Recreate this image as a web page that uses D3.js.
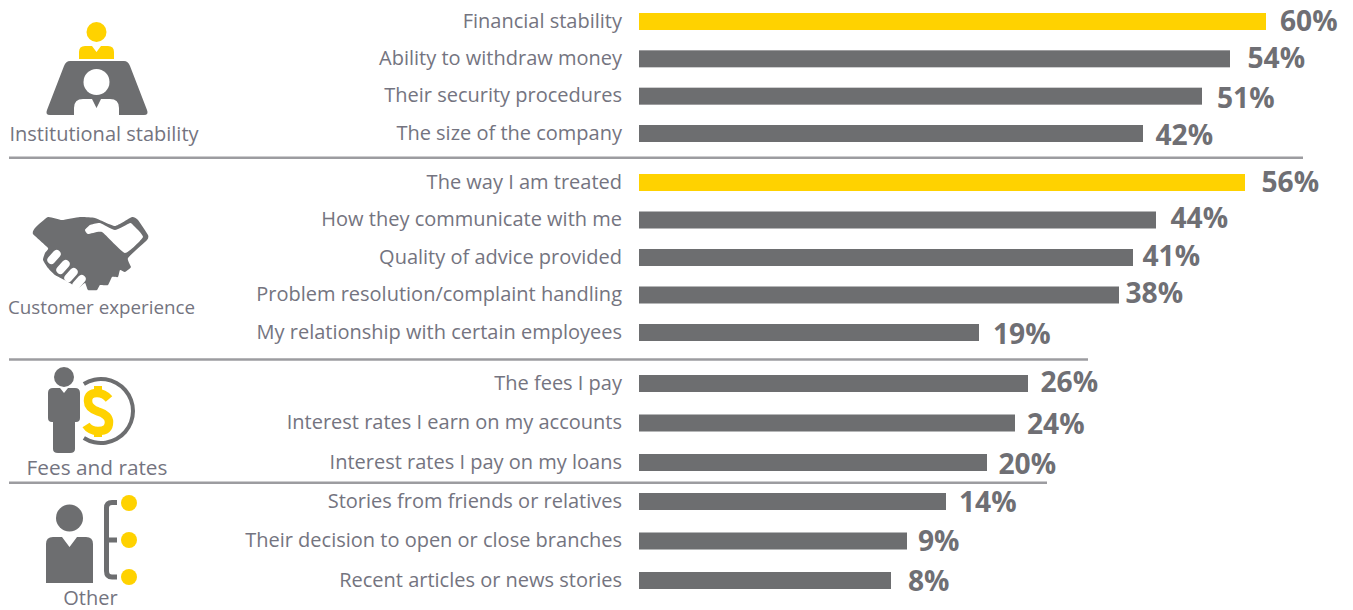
<!DOCTYPE html>
<html>
<head>
<meta charset="utf-8">
<script src="https://cdn.jsdelivr.net/npm/d3@7"></script>
<style>
  html, body { margin: 0; padding: 0; background: #fff; }
  text { font-family: "Open Sans", "Noto Sans", sans-serif; }
</style>
</head>
<body>
<svg id="chart" width="1353" height="610"></svg>
<script>
"use strict";

const groupNames = ['Institutional stability', 'Customer experience', 'Fees and rates', 'Other'];

const stabilityLabels = ['Financial stability', 'Ability to withdraw money', 'Their security procedures', 'The size of the company'];
const stabilityValues = [60, 54, 51, 42];

const experienceLabels = ['The way I am treated', 'How they communicate with me', 'Quality of advice provided', 'Problem resolution/complaint handling', 'My relationship with certain employees'];
const experienceValues = [56, 44, 41, 38, 19];

const feesLabels = ['The fees I pay', 'Interest rates I earn on my accounts', 'Interest rates I pay on my loans'];
const feesValues = [26, 24, 20];

const otherLabels = ['Stories from friends or relatives', 'Their decision to open or close branches', 'Recent articles or news stories'];
const otherValues = [14, 9, 8];

const highlighted = ['Financial stability', 'The way I am treated'];

// the bars in the source are not proportional to their labels,
// so the scale is read off the picture value by value
const lengthKnots = [8, 9, 14, 19, 20, 24, 26, 38, 41, 42, 44, 51, 54, 56, 60];
const lengthPixels = [252, 268, 307, 340, 348, 376, 389, 480, 494, 504, 517, 563, 591, 606, 627];

const yellow = '#ffd200';
const barGrey = '#6d6e70';
const valueGrey = '#6f6f74';
const textGrey = '#747480';
const ruleGrey = '#9c9ca0';

const labelX = 622;
const barX = 639;
const barHeight = 17;

const svg = d3.select('#chart');
const x = d3.scaleLinear().domain(lengthKnots).range(lengthPixels);

const rows = [
  { labels: stabilityLabels, values: stabilityValues, range: [21.5, 133.5] },
  { labels: experienceLabels, values: experienceValues, range: [182.5, 332.5] },
  { labels: feesLabels, values: feesValues, range: [383.5, 462.5] },
  { labels: otherLabels, values: otherValues, range: [501.5, 580.5] }
];

// the percent labels were hand placed in the source: [gap after bar, shift from bar centre]
const valueNudge = {
  60: [14, -0.5], 54: [17.5, -0.5], 51: [15, 1.5], 42: [12.5, 2],
  56: [16.5, -0.5], 44: [14.5, -1.5], 41: [9.5, -1], 38: [6.5, -1.5], 19: [14, 1.5],
  26: [12.5, -1], 24: [12, 1.5], 20: [11.5, 1.5],
  14: [13, 0.5], 9: [11, 0.5], 8: [17, 0.5]
};

rows.forEach((group) => {
  const y = d3.scalePoint().domain(group.labels).range(group.range);
  const data = group.labels.map((label, i) => ({ label, value: group.values[i] }));

  const row = svg.append('g')
    .selectAll('g')
    .data(data)
    .enter().append('g')
      .attr('transform', d => `translate(0,${y(d.label)})`);

  row.append('text')
    .attr('x', labelX)
    .attr('y', -1)
    .attr('dy', '0.35em')
    .attr('text-anchor', 'end')
    .attr('font-size', 20)
    .attr('fill', textGrey)
    .text(d => d.label);

  row.append('rect')
    .attr('x', barX)
    .attr('y', -barHeight / 2)
    .attr('width', d => x(d.value))
    .attr('height', barHeight)
    .attr('fill', d => highlighted.includes(d.label) ? yellow : barGrey);

  row.append('text')
    .attr('x', d => barX + x(d.value) + valueNudge[d.value][0])
    .attr('y', d => valueNudge[d.value][1])
    .attr('dy', '0.35em')
    .attr('font-size', 28.2)
    .attr('font-weight', 700)
    .attr('fill', valueGrey)
    .text(d => d.value + '%');
});

// separators between the groups
const rules = [[9, 1303, 157.7], [9, 1088, 359.4], [9, 1047, 482.7]];
svg.append('g')
  .selectAll('line')
  .data(rules)
  .enter().append('line')
    .attr('x1', d => d[0])
    .attr('x2', d => d[1])
    .attr('y1', d => d[2])
    .attr('y2', d => d[2])
    .attr('stroke', ruleGrey)
    .attr('stroke-width', 2.5);

// group captions under the icons: [centre x, centre y, font size]
const captions = [[104, 133.5, 20], [101.5, 307.5, 18.8], [97, 467.5, 20.8], [90.5, 597.5, 20]];
svg.append('g')
  .selectAll('text')
  .data(groupNames)
  .enter().append('text')
    .attr('x', (d, i) => captions[i][0])
    .attr('y', (d, i) => captions[i][1])
    .attr('dy', '0.35em')
    .attr('text-anchor', 'middle')
    .attr('font-size', (d, i) => captions[i][2])
    .attr('fill', textGrey)
    .text(d => d);

// icons
const icon1 = svg.append('g');
icon1.append('circle').attr('cx', 96.5).attr('cy', 32).attr('r', 10).attr('fill', yellow);
icon1.append('path')
  .attr('d', 'M79 59V52Q79 46 85 46H92L96.5 52L101 46H108Q114 46 114 52V59Z')
  .attr('fill', yellow);
icon1.append('path')
  .attr('d', 'M70 61H124Q128 61 130 66L147 110Q149 115 144 115H119V108Q119 99 110 99H101L96.5 108L92 99H83Q74 99 74 108V115H50Q45 115 47 110L64 66Q66 61 70 61Z')
  .attr('fill', barGrey);
icon1.append('circle').attr('cx', 96.5).attr('cy', 82).attr('r', 13).attr('fill', '#fff');

// handshake
const smooth = d3.line().curve(d3.curveCardinalClosed.tension(0.55));
const handOutline = [[48, 217], [62, 220], [80, 217], [95, 218], [115, 226], [132, 217], [138, 220], [148, 235], [147, 240],
  [128, 258], [131, 267], [125, 272], [120, 270], [118, 277], [112, 277], [108, 285], [100, 285], [97, 290], [88, 290],
  [85, 283], [78, 288], [70, 283], [55, 275], [48, 268], [43, 260], [45, 253], [48, 248], [33, 234], [35, 228]];
const cuffGap = [[85, 230], [90, 225], [100, 223], [115, 230], [130, 223], [133, 225], [143, 237], [125, 253], [102, 232], [88, 234]];

const icon2 = svg.append('g');
icon2.append('path').attr('d', smooth(handOutline)).attr('fill', barGrey);
icon2.append('path').attr('d', smooth(cuffGap)).attr('fill', '#fff');
[[54, 257], [63, 267], [71, 275], [79, 282]].forEach(([cx, cy]) => {
  icon2.append('rect')
    .attr('x', cx - 8).attr('y', cy - 4).attr('width', 16).attr('height', 8).attr('rx', 4)
    .attr('transform', `rotate(-48 ${cx} ${cy})`)
    .attr('fill', '#fff');
});

const icon3 = svg.append('g');
icon3.append('circle').attr('cx', 64).attr('cy', 377).attr('r', 10).attr('fill', barGrey);
icon3.append('path')
  .attr('d', 'M53 388H60L64 393L68 388H75Q80 388 80 393V418Q80 422 76 422H75V449Q75 453 70 453H58Q53 453 53 449V422H52Q48 422 48 418V393Q48 388 53 388Z')
  .attr('fill', barGrey);
icon3.append('path')
  .attr('d', d3.arc().innerRadius(30).outerRadius(34).startAngle(-Math.PI * 0.18).endAngle(Math.PI * 1.18)())
  .attr('transform', 'translate(101,411)')
  .attr('fill', barGrey);
icon3.append('path')
  .attr('d', 'M109 399Q104 393 97 393Q88 393 88 401Q88 408 98 411.5Q109 415 109 422Q109 431 98 431Q90 431 86 425')
  .attr('fill', 'none')
  .attr('stroke', yellow)
  .attr('stroke-width', 8.5);
icon3.append('path')
  .attr('d', 'M98 386V394M98 429V437')
  .attr('fill', 'none')
  .attr('stroke', yellow)
  .attr('stroke-width', 8);

const icon4 = svg.append('g');
icon4.append('circle').attr('cx', 69.5).attr('cy', 518).attr('r', 13.5).attr('fill', barGrey);
icon4.append('path')
  .attr('d', 'M46 583V544Q46 537 53 537H62L69.5 547L77 537H86Q93 537 93 544V583Z')
  .attr('fill', barGrey);
icon4.append('path')
  .attr('d', 'M117 502.5H112Q106.5 502.5 106.5 508V571Q106.5 577 112 577H117M106.5 540H117')
  .attr('fill', 'none')
  .attr('stroke', barGrey)
  .attr('stroke-width', 5);
[503, 540, 577].forEach((cy) => {
  icon4.append('circle').attr('cx', 129).attr('cy', cy).attr('r', 8).attr('fill', yellow);
});
</script>
</body>
</html>
